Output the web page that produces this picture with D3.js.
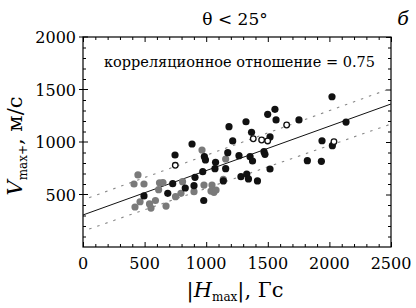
<!DOCTYPE html>
<html>
<head>
<meta charset="utf-8">
<script src="https://cdn.jsdelivr.net/npm/d3@7"></script>
<style>
  body { margin: 0; background: #fff; }
  svg { display: block; font-family: "DejaVu Serif", serif; }
</style>
</head>
<body>
<div id="chart"></div>
<script>
// ===========================
// Scatter: V_max+ vs |H_max|, θ < 25°
// ===========================

const xTicks = [0, 500, 1000, 1500, 2000, 2500];
const yTicks = [500, 1000, 1500, 2000];

// gray filled points [H, V]
const grayPts = [
    [446, 686], [414, 600], [495, 600], [463, 431], [422, 381], [540, 410],
    [552, 371], [588, 443], [614, 546], [621, 612], [649, 614], [674, 390],
    [751, 479], [795, 511], [808, 622], [901, 527], [966, 924], [982, 590],
    [1039, 533], [1063, 521], [1047, 590], [1080, 543], [1139, 645], [1158, 838]
];

// black filled points
const blackPts = [
    [495, 486], [688, 511], [728, 603], [747, 876], [830, 562], [885, 981],
    [901, 584], [909, 664], [980, 443], [972, 717], [985, 860], [994, 829],
    [1076, 807], [1071, 746], [1139, 629], [1158, 746], [1175, 898], [1185, 1146],
    [1215, 1010], [1266, 870], [1282, 670], [1323, 1193], [1329, 695], [1343, 648],
    [1356, 860], [1376, 819], [1368, 1092], [1416, 629], [1469, 908], [1477, 883],
    [1499, 1264], [1518, 1048], [1518, 743], [1558, 1311], [1567, 1210], [1753, 1210],
    [1821, 822], [1935, 816], [1940, 1012], [2021, 1431], [2024, 965], [2135, 1190]
];

// open circles
const openPts = [
    [749, 778], [1382, 1031], [1450, 1019], [1499, 1010], [1653, 1162], [2037, 1003]
];

const fitLine = [[0, 305], [2500, 1362]];
const upperBand = [[50, 470], [2500, 1511]];
const lowerBand = [[50, 171], [2500, 1171]];

const width = 416, height = 308;
const margin = { top: 37, right: 25, bottom: 61, left: 83 };
const innerW = width - margin.left - margin.right;
const innerH = height - margin.top - margin.bottom;

const svg = d3.select('#chart').append('svg')
    .attr('width', width)
    .attr('height', height);

const g = svg.append('g')
    .attr('transform', `translate(${margin.left},${margin.top})`);

const x = d3.scaleLinear().domain([0, 2500]).range([0, innerW]);
const y = d3.scaleLinear().domain([0, 2000]).range([innerH, 0]);

const minorX = d3.range(0, 2501, 100).filter(v => v % 500 !== 0);
const minorY = d3.range(0, 2001, 100).filter(v => v % 500 !== 0);

// frame
g.append('rect')
    .attr('width', innerW)
    .attr('height', innerH)
    .attr('fill', 'none')
    .attr('stroke', '#000')
    .attr('stroke-width', 1.2);

// ticks on all four sides, pointing inward
function ticks(axisFn, scale, vals, size, transform) {
    g.append('g')
        .attr('transform', transform)
        .call(axisFn(scale).tickValues(vals).tickSize(size).tickFormat(''))
        .call(s => s.select('.domain').remove())
        .selectAll('line').attr('stroke', '#000');
}
ticks(d3.axisBottom, x, minorX, -3, `translate(0,${innerH})`);
ticks(d3.axisBottom, x, xTicks, -5, `translate(0,${innerH})`);
ticks(d3.axisTop, x, minorX, -3, 'translate(0,0)');
ticks(d3.axisTop, x, xTicks, -5, 'translate(0,0)');
ticks(d3.axisLeft, y, minorY, -3, 'translate(0,0)');
ticks(d3.axisRight, y, minorY, -3, `translate(${innerW},0)`);
ticks(d3.axisRight, y, yTicks, -5, `translate(${innerW},0)`);

// left major ticks cross the axis
g.append('g')
    .selectAll('line')
    .data(yTicks)
    .join('line')
    .attr('x1', -4).attr('x2', 5)
    .attr('y1', d => y(d)).attr('y2', d => y(d))
    .attr('stroke', '#000');

// tick labels
g.append('g').selectAll('text')
    .data(xTicks)
    .join('text')
    .attr('x', d => x(d))
    .attr('y', innerH + 22)
    .attr('text-anchor', 'middle')
    .style('font-size', '16px')
    .text(d => d);

g.append('g').selectAll('text')
    .data(yTicks)
    .join('text')
    .attr('x', -7)
    .attr('y', d => y(d) + 6)
    .attr('text-anchor', 'end')
    .style('font-size', '16px')
    .text(d => d);

// regression line and band
const line = d3.line().x(d => x(d[0])).y(d => y(d[1]));

g.append('path')
    .datum(upperBand)
    .attr('d', line)
    .attr('fill', 'none')
    .attr('stroke', '#888')
    .attr('stroke-width', 1.1)
    .attr('stroke-dasharray', '2.5,6');

g.append('path')
    .datum(lowerBand)
    .attr('d', line)
    .attr('fill', 'none')
    .attr('stroke', '#888')
    .attr('stroke-width', 1.1)
    .attr('stroke-dasharray', '2.5,6');

g.append('path')
    .datum(fitLine)
    .attr('d', line)
    .attr('fill', 'none')
    .attr('stroke', '#111')
    .attr('stroke-width', 1);

// points
g.selectAll('.gray')
    .data(grayPts)
    .join('circle')
    .attr('class', 'gray')
    .attr('cx', d => x(d[0]))
    .attr('cy', d => y(d[1]))
    .attr('r', 3.6)
    .attr('fill', '#7a7a7a');

g.selectAll('.black')
    .data(blackPts)
    .join('circle')
    .attr('class', 'black')
    .attr('cx', d => x(d[0]))
    .attr('cy', d => y(d[1]))
    .attr('r', 3.6)
    .attr('fill', '#111');

g.selectAll('.open')
    .data(openPts)
    .join('circle')
    .attr('class', 'open')
    .attr('cx', d => x(d[0]))
    .attr('cy', d => y(d[1]))
    .attr('r', 2.8)
    .attr('fill', '#fff')
    .attr('stroke', '#111')
    .attr('stroke-width', 1.3);

// annotation
g.append('text')
    .attr('x', innerW / 2 + 2.5)
    .attr('y', 30)
    .attr('text-anchor', 'middle')
    .style('font-size', '14.5px')
    .text('корреляционное отношение = 0.75');

// title and panel letter
svg.append('text')
    .attr('x', 235)
    .attr('y', 25)
    .attr('text-anchor', 'middle')
    .style('font-size', '17px')
    .text('θ < 25°');

svg.append('text')
    .attr('x', 403)
    .attr('y', 25)
    .attr('text-anchor', 'middle')
    .style('font-size', '19px')
    .style('font-style', 'italic')
    .text('б');

// x axis title
const xt = svg.append('text')
    .attr('x', 235)
    .attr('y', 297)
    .attr('text-anchor', 'middle')
    .style('font-size', '21px');
xt.append('tspan').text('|');
xt.append('tspan').style('font-style', 'italic').text('H');
xt.append('tspan').attr('dy', 4).style('font-size', '12px').text('max');
xt.append('tspan').attr('dy', -4).text('|, Гс');

// y axis title
const yt = svg.append('text')
    .attr('transform', 'translate(22,146) rotate(-90)')
    .attr('text-anchor', 'middle')
    .style('font-size', '21px');
yt.append('tspan').style('font-style', 'italic').text('V');
yt.append('tspan').attr('dy', 5).style('font-size', '12px').text('max+');
yt.append('tspan').attr('dy', -5).text(', м/с');
</script>
</body>
</html>
